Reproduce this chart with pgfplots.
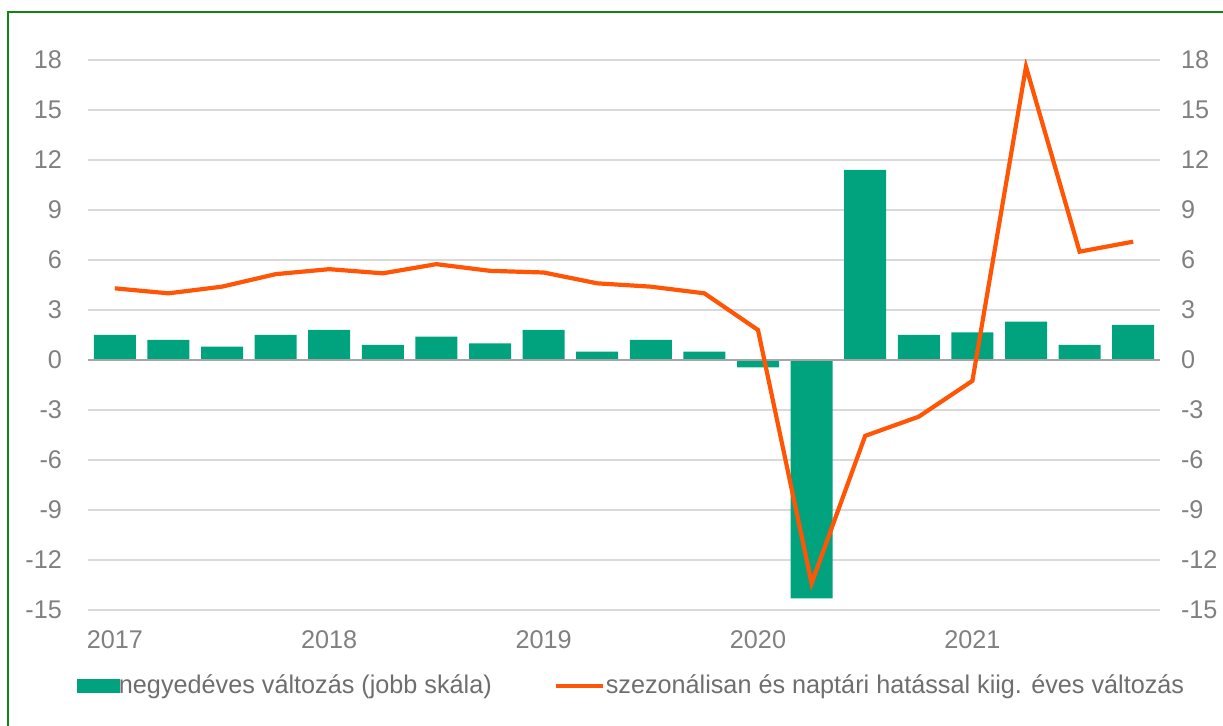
\documentclass[border=0pt]{standalone}
\usepackage{fontspec}
\setmainfont{Liberation Sans}[FakeStretch=0.985]
\usepackage{pgfplots}
\pgfplotsset{compat=1.18}
\definecolor{barg}{RGB}{0,163,126}
\definecolor{lino}{RGB}{255,85,5}
\definecolor{gridc}{RGB}{217,217,217}
\definecolor{zeroc}{RGB}{165,165,165}
\definecolor{tickc}{RGB}{128,128,128}
\definecolor{legc}{RGB}{110,110,110}
\definecolor{framec}{RGB}{20,130,20}
\begin{document}
\begin{tikzpicture}
\useasboundingbox (0pt,0pt) rectangle (611.5pt,-363pt);
\draw[framec, line width=1.1pt] (4pt,-363pt) -- (4pt,-6pt) -- (611.5pt,-6pt);
\pgfplotsset{
  mybase/.style={
    scale only axis, width=536pt, height=275pt,
    at={(44pt,-305pt)}, anchor=south west,
    xmin=-0.5, xmax=19.5, ymin=-15, ymax=18,
    ytick={-15,-12,...,18},
    tick style={draw=none},
    /pgf/number format/assume math mode=true,
    every tick label/.append style={font=\fontsize{12.8}{14}\selectfont, text=tickc},
  }
}
\begin{axis}[mybase,
  axis line style={draw=none},
  ymajorgrids, grid style={gridc, line width=0.8pt},
  xtick={0,4,8,12,16}, xticklabels={2017,2018,2019,2020,2021},
  xticklabel style={yshift=-7pt},
  yticklabel style={xshift=-9.5pt},
  legend style={at={(-0.0105,-0.138)}, anchor=west, draw=none, fill=none,
    legend columns=2, font=\fontsize{12.8}{14}\selectfont, text=legc,
    /tikz/every even column/.append style={column sep=29pt},
    inner sep=0pt},
  legend cell align=left,
]
\addplot[ybar, bar width=21pt, fill=barg, draw=none, forget plot] coordinates {
(0,1.5) (1,1.2) (2,0.8) (3,1.5) (4,1.8) (5,0.9) (6,1.4) (7,1.0) (8,1.8) (9,0.5)
(10,1.2) (11,0.5) (12,-0.45) (13,-14.3) (14,11.4) (15,1.5) (16,1.65) (17,2.3) (18,0.9) (19,2.1)};
\draw[zeroc, line width=1pt] (axis cs:-0.5,0) -- (axis cs:19.5,0);
\addplot[lino, line width=2.1pt, forget plot] coordinates {
(0,4.3) (1,4.0) (2,4.4) (3,5.15) (4,5.45) (5,5.2) (6,5.75) (7,5.35) (8,5.25) (9,4.6)
(10,4.4) (11,4.0) (12,1.8) (13,-13.4) (14,-4.55) (15,-3.4) (16,-1.25) (17,17.6) (18,6.5) (19,7.1)};
\addlegendimage{area legend, legend image code/.code={\fill[barg] (0pt,-3.3pt) rectangle (21pt,3.2pt);}}
\addlegendentry{\hspace{-2.5pt}negyedéves változás (jobb skála)}
\addlegendimage{legend image code/.code={\draw[lino, line width=2pt] (0pt,0pt) -- (23.5pt,0pt);}}
\addlegendentry{\hspace{-1.5pt}szezonálisan és naptári hatással kiig. éves változás}
\end{axis}
\begin{axis}[mybase,
  axis x line=none, axis y line*=right,
  axis line style={draw=none},
  xtick=\empty,
  yticklabel style={xshift=7pt, anchor=west},
]
\addplot[draw=none, forget plot] coordinates {(0,0)};
\end{axis}
\end{tikzpicture}
\end{document}
